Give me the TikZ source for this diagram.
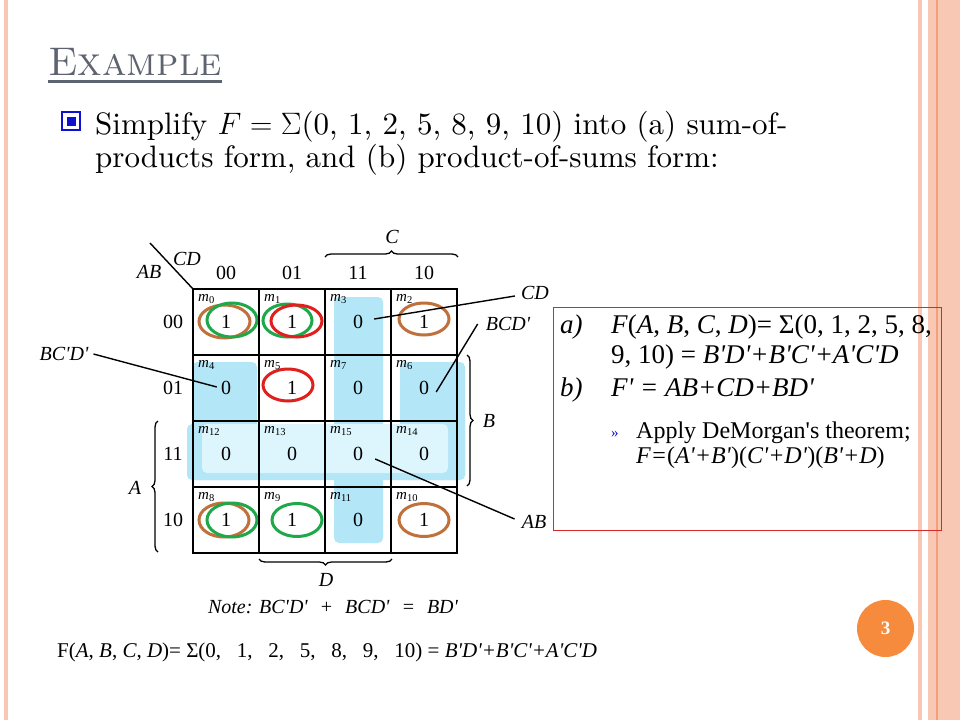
\RequirePackage{fix-cm}
\documentclass[tikz,border=0pt]{standalone}
\usepackage{fontspec}
\newfontfamily\tnr{Liberation Serif}
\newfontfamily\lmten{lmroman10-regular.otf}[ItalicFont=lmroman10-italic.otf]
\usetikzlibrary{decorations.pathreplacing,calc}
\definecolor{salmon}{HTML}{F9C8B4}
\definecolor{orangeline}{HTML}{F2A07A}
\definecolor{numorange}{HTML}{F78B3D}
\definecolor{titlegray}{HTML}{5E6370}
\definecolor{kblue}{HTML}{B3E6F7}
\definecolor{klight}{HTML}{DDF5FC}
\definecolor{brownc}{HTML}{C0703A}
\definecolor{greenc}{HTML}{1FA84A}
\definecolor{redc}{HTML}{E0201E}
\definecolor{boxred}{HTML}{D42A2A}
\definecolor{bulletblue}{HTML}{1010D0}
\newcommand\pq{\textquotesingle}
\newcommand\wsp{\hspace{0.6em}}
\newcommand\lsp{\hspace{0.75em}}
\tikzset{
 cellv/.style={font=\tnr\fontsize{20}{20}\selectfont, inner sep=0},
 mlab/.style={font=\tnr\fontsize{15}{15}\selectfont, anchor=base west, inner sep=0},
 hdr/.style={font=\tnr\fontsize{20}{20}\selectfont, inner sep=0},
 lab/.style={font=\tnr\itshape\fontsize{20}{20}\selectfont, inner sep=0},
 leader/.style={line width=1.4},
 grp/.style={fill=kblue, rounded corners=5},
 ring/.style={line width=3},
 brc/.style={decorate, decoration={brace, amplitude=6pt}, line width=1.3},
 boxtxt/.style={font=\tnr\fontsize{27}{27}\selectfont, anchor=base west, inner sep=0},
 subtxt/.style={font=\tnr\fontsize{24}{24}\selectfont, anchor=base west, inner sep=0},
 bodytxt/.style={font=\lmten\fontsize{31}{31}\selectfont, anchor=base west, inner sep=0},
}
\begin{document}
\begin{tikzpicture}[x=1pt,y=-1pt]
\useasboundingbox (0,0) rectangle (960,720);
\fill[white] (0,0) rectangle (960,720);
% side stripes
\fill[salmon] (4,0) rectangle (8,720);
\fill[salmon] (918,0) rectangle (922,720);
\fill[salmon] (928,0) rectangle (960,720);
\fill[orangeline] (936,0) rectangle (937.5,720);
% title
\node[anchor=base west, inner sep=0, text=titlegray, font=\fontsize{40}{40}\selectfont] (title) at (48,75) {\textsc{Example}};
\fill[titlegray] ($(title.base west)+(0,4.5)$) rectangle ($(title.base east)+(0,7.5)$);
% bullet
\draw[bulletblue, line width=1.6] (62,112) rectangle (80,130);
\fill[bulletblue] (66.5,116.5) rectangle (75.5,125.5);
\node[bodytxt] (q1) at (95,134) {Simplify $F = \Sigma$(0, 1, 2, 5, 8, 9, 10) into (a) sum-of-};
\node[bodytxt] (q2) at (95,167) {products form, and (b) product-of-sums form:};
% groups
\fill[grp] (334,297) rectangle (383,543);
\fill[grp] (192,362) rectangle (257,480);
\fill[grp] (400,362) rectangle (465,480);
\fill[grp] (187,424) rectangle (465,480);
\fill[klight, rounded corners=5] (202,424) rectangle (448,473);
% rings
\draw[ring, brownc] (224.5,321.5) ellipse [x radius=25.5, y radius=16.5];
\draw[ring, greenc] (232,320) ellipse [x radius=25, y radius=17];
\draw[ring, greenc] (287.5,320.5) ellipse [x radius=24.5, y radius=16.5];
\draw[ring, redc] (296.5,321) ellipse [x radius=25.5, y radius=16];
\draw[ring, redc] (288,385) ellipse [x radius=25, y radius=16];
\draw[ring, brownc] (424,319) ellipse [x radius=25, y radius=16];
\draw[ring, brownc] (224,520) ellipse [x radius=25, y radius=17];
\draw[ring, greenc] (232,520) ellipse [x radius=25, y radius=17];
\draw[ring, greenc] (297,520) ellipse [x radius=25, y radius=16.5];
\draw[ring, brownc] (424,520) ellipse [x radius=25, y radius=16.5];
% grid
\draw[line width=2] (193,289) rectangle (457,553);
\foreach \gx in {259,325,391} \draw[line width=2] (\gx,289) -- (\gx,553);
\foreach \gy in {355,421,487} \draw[line width=2] (193,\gy) -- (457,\gy);
% cells
\foreach \m/\v/\c/\r in {0/1/0/0, 1/1/1/0, 3/0/2/0, 2/1/3/0, 4/0/0/1, 5/1/1/1, 7/0/2/1, 6/0/3/1, 12/0/0/2, 13/0/1/2, 15/0/2/2, 14/0/3/2, 8/1/0/3, 9/1/1/3, 11/0/2/3, 10/1/3/3} {
  \node[cellv] (v\m) at ({226+66*\c},{322+66*\r}) {\v};
  \node[mlab] (m\m) at ({198+66*\c},{301+66*\r}) {\textit{m}\textsubscript{\m}};
}
% headers
\foreach \t/\c in {00/0,01/1,11/2,10/3} {
  \node[hdr] (ch\t) at ({226+66*\c},273) {\t};
  \node[hdr] (rh\t) at (173,{322+66*\c}) {\t};
}
\coordinate (corner) at (193,289);
\coordinate (diagtop) at (150,243);
\draw[line width=1.4] (diagtop) -- (corner);
\node[lab] (lCDh) at (187,259) {CD};
\node[lab] (lABh) at (149,272) {AB};
% braces
\draw[brc] (325,257) -- (458,257);
\node[lab] (lC) at (392,237) {C};
\draw[brc] (467,355) -- (467,486);
\node[lab] (lB) at (489,421) {B};
\draw[brc] (158,552) -- (158,421);
\node[lab] (lA) at (135,488) {A};
\draw[brc] (392,559) -- (259,559);
\node[lab] (lD) at (326,580) {D};
\node[lab, anchor=base] (note) at (333,613) {Note: BC\pq D\pq\wsp+\wsp BCD\pq\wsp=\wsp BD\pq};
% leader labels
\node[lab] (lCD) at (535,293) {CD};
\node[lab] (lBCD) at (508,324) {BCD\pq};
\node[lab] (lBCpD) at (64,354) {BC\pq D\pq};
\node[lab] (lAB) at (534,522) {AB};
\draw[leader] ($(v3.east)+(11,-3)$) -- ($(lCD.west)+(-6,3)$);
\draw[leader] ($(v6.east)+(7,4)$) -- ($(lBCD.west)+(-8,0)$);
\draw[leader] ($(lBCpD.east)+(5,0)$) -- ($(v4.west)+(-4,-1)$);
\draw[leader] ($(v15.east)+(12,5)$) -- ($(lAB.west)+(-7,-3)$);
% answer box
\node[draw=boxred, line width=1.2, minimum width=388, minimum height=223, anchor=north west, inner sep=0] (box) at (553,307) {};
\node[boxtxt] (ta) at (560,333) {\textit{a)}};
\node[boxtxt] (a1) at (611,333) {\textit{F}(\textit{A}, \textit{B}, \textit{C}, \textit{D})= Σ(0, 1, 2, 5, 8,};
\node[boxtxt] (a2) at (611,363) {9, 10) = \textit{B\pq D\pq+B\pq C\pq+A\pq C\pq D}};
\node[boxtxt] (tb) at (560,396) {\textit{b)}};
\node[boxtxt] (b1) at (611,396) {\textit{F\pq\ = AB+CD+BD\pq}};
\node[subtxt, text=bulletblue, font=\tnr\fontsize{15}{15}\selectfont] (arr) at (611,437) {»};
\node[subtxt] (b2) at (636,438) {Apply DeMorgan\pq s theorem;};
\node[subtxt] (b3) at (636,463) {\textit{F=}(\textit{A\pq+B\pq})(\textit{C\pq+D\pq})(\textit{B\pq+D})};
% bottom formula
\node[anchor=base west, inner sep=0, font=\tnr\fontsize{21}{21}\selectfont] (bot) at (57,657) {F(\textit{A}, \textit{B}, \textit{C}, \textit{D})= Σ(0,\lsp 1,\lsp 2,\lsp 5,\lsp 8,\lsp 9,\lsp 10) = \textit{B\pq D\pq+B\pq C\pq+A\pq C\pq D}};
% slide number
\node[circle, fill=numorange, minimum size=57, inner sep=0, text=white, font=\tnr\bfseries\fontsize{19}{19}\selectfont] (num) at (885.5,628.5) {3};
\end{tikzpicture}
\end{document}
